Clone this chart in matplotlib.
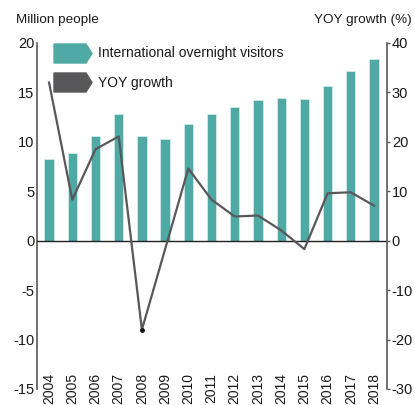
import matplotlib
matplotlib.use("Agg")

import matplotlib.pyplot as plt
from matplotlib.patches import Polygon
import numpy as np

years = ["2004", "2005", "2006", "2007", "2008", "2009", "2010", "2011",
         "2012", "2013", "2014", "2015", "2016", "2017", "2018"]
visitors = [8.3, 8.9, 10.6, 12.8, 10.55, 10.3, 11.8, 12.85, 13.5, 14.2,
            14.45, 14.3, 15.6, 17.2, 18.4]
yoy_growth = [32.0, 8.3, 18.5, 21.1, -18.0, -1.7, 14.6, 8.3, 4.9, 5.1,
              2.1, -1.7, 9.6, 9.8, 7.1]

TEAL = "#4fa9a5"
GREY = "#58585a"
TXT = "#1a1a1a"

plt.rcParams["font.family"] = ["Liberation Sans", "DejaVu Sans"]
plt.rcParams["axes.unicode_minus"] = False

W, H = 415, 405
fig = plt.figure(figsize=(W / 100, H / 100), dpi=100)
ax = fig.add_axes([37 / W, 16 / H, 350 / W, 346 / H])
ax2 = ax.twinx()

x = np.arange(len(years))
ax.bar(x, visitors, width=0.4, color=TEAL, edgecolor="#d2e9e7",
       linewidth=0.6, zorder=2)
ax.axhline(0, color="#222222", linewidth=1.0, zorder=3)

ax2.plot(x, yoy_growth, color=GREY, linewidth=1.6, zorder=4)
ax2.plot(x[4], yoy_growth[4], "o", color="#111111", markersize=2.5, zorder=5)

ax.set_xlim(-0.52, len(years) - 1 + 0.56)
ax.set_ylim(-15, 20)
ax2.set_ylim(-30, 40)
ax.set_yticks(np.arange(-15, 21, 5))
ax2.set_yticks(np.arange(-30, 41, 10))

ax.set_xticks(x)
ax.set_xticklabels(years, rotation=90, fontsize=10, color=TXT)
ax.tick_params(axis="x", length=0, pad=-11.5)
ax.tick_params(axis="y", length=0, pad=2, labelsize=10.5, labelcolor=TXT)
ax2.tick_params(axis="y", length=2.5, width=1, pad=1, labelsize=10.5,
                labelcolor=TXT, color=GREY)

for a in (ax, ax2):
    a.spines["top"].set_visible(False)
    a.spines["bottom"].set_visible(False)
ax.spines["left"].set_color(GREY)
ax.spines["left"].set_linewidth(1.2)
ax.spines["right"].set_visible(False)
ax2.spines["left"].set_visible(False)
ax2.spines["right"].set_color(GREY)
ax2.spines["right"].set_linewidth(1.2)
ax2.patch.set_visible(False)

fig.text(16 / W, 1 - 20 / H, "Million people", fontsize=9.7, color=TXT,
         ha="left", va="center")
fig.text(412 / W, 1 - 20 / H, "YOY growth (%)", fontsize=9.7, color=TXT,
         ha="right", va="center")


# arrow-shaped legend keys
def key(y_top, color, label):
    pts = [(54, y_top), (86, y_top), (92, y_top + 9.5), (86, y_top + 19),
           (54, y_top + 19)]
    pts = [(px / W, 1 - py / H) for px, py in pts]
    fig.add_artist(Polygon(pts, closed=True, color=color,
                           transform=fig.transFigure))
    fig.text(98 / W, 1 - (y_top + 9.5) / H, label, fontsize=10,
             color=TXT, ha="left", va="center")


key(44, TEAL, "International overnight visitors")
key(73, GREY, "YOY growth")

fig.savefig("out.png", dpi=100)
